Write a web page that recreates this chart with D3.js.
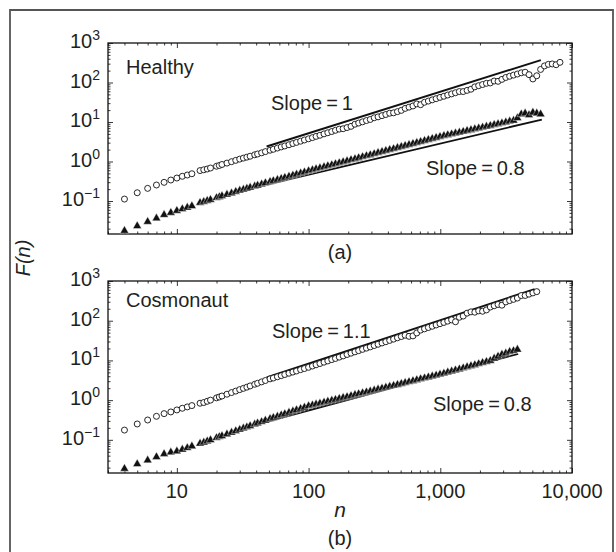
<!DOCTYPE html>
<html><head><meta charset="utf-8">
<script src="https://cdn.jsdelivr.net/npm/d3@7"></script>
<style>
html,body{margin:0;padding:0;background:#fff;}
svg{display:block;}
text{font-family:"Liberation Sans",Arial,Helvetica,sans-serif;fill:#231f20;}
</style></head><body>
<svg id="chart" width="616" height="552"></svg>
<script>
// window sizes n (shared grid, each series uses a prefix of it)
const nGrid = [4,5,6,7,8,9,10,11,12,13,15,16,17,18,20,21,22,24,26,28,30,32,34,36,39,41,44,47,51,54,58,62,66,71,76,81,87,93,100,107,114,122,131,140,150,160,171,183,196,210,225,240,257,275,294,315,337,361,386,413,442,473,506,541,579,620,663,709,759,812,869,930,995,1065,1139,1219,1304,1396,1493,1598,1710,1829,1957,2094,2241,2398,2566,2745,2937,3143,3363,3598,3850,4120,4408,4717,5047,5400,5778,6183,6616,7079,7574,8105];

// (a) Healthy
const healthyCircles = [0.112,0.162,0.209,0.254,0.297,0.340,0.382,0.422,0.455,0.490,
0.589,0.617,0.646,0.684,0.759,0.794,0.841,0.912,0.989,1.07,
1.15,1.22,1.29,1.36,1.48,1.55,1.66,1.78,1.93,2.04,
2.19,2.34,2.48,2.66,2.85,3.05,3.27,3.51,3.76,4.03,
4.32,4.62,5.01,5.35,5.75,6.17,6.61,6.76,7.24,7.76,
8.79,9.42,10.1,10.9,11.6,12.8,13.5,14.5,15.5,16.7,
17.1,18.3,19.7,22.1,23.8,25.5,28.7,27.4,31.6,33.9,
36.4,39.0,42.0,44.9,48.2,51.5,55.1,59.0,59.0,63.2,
67.6,77.6,83.2,88.9,95.3,97.5,109,107,120,134,
144,154,164,176,182,158,123,148,214,263,
288,295,282,324];
const healthyTriangles = [0.0177,0.0233,0.0299,0.0365,0.0447,0.0507,0.0569,0.0627,0.0684,0.0746,
0.0906,0.0955,0.102,0.108,0.120,0.126,0.134,0.146,0.158,0.172,
0.184,0.195,0.207,0.219,0.237,0.248,0.266,0.285,0.309,0.324,
0.346,0.368,0.391,0.418,0.446,0.472,0.506,0.537,0.575,0.610,
0.646,0.684,0.728,0.771,0.818,0.867,0.918,0.973,1.03,1.10,
1.16,1.23,1.31,1.39,1.47,1.56,1.66,1.76,1.87,1.98,
2.09,2.22,2.36,2.50,2.65,2.81,2.99,3.16,3.36,3.56,
3.78,4.00,4.25,4.47,4.70,4.93,5.18,5.44,5.71,6.01,
6.31,6.62,6.97,7.31,7.69,8.07,8.49,8.91,9.38,9.84,
10.4,10.9,12.6,15.8,16.6,15.1,17.4,16.6,15.8];
const healthyFit1N = [48, 5800],  healthyFit1F = [2.4, 370];
const healthyFit08N = [48, 5900], healthyFit08F = [0.26, 11.5];

// (b) Cosmonaut
const cosmoCircles = [0.176,0.251,0.316,0.391,0.457,0.504,0.566,0.624,0.675,0.729,
0.836,0.871,0.935,1.00,1.14,1.20,1.27,1.41,1.55,1.69,
1.84,1.98,2.12,2.28,2.51,2.66,2.88,3.12,3.43,3.60,
3.87,4.14,4.42,4.75,5.09,5.42,5.85,6.24,6.71,7.23,
7.76,8.36,9.04,9.72,10.5,11.2,12.1,13.0,14.1,15.2,
16.4,17.6,19.0,20.4,21.9,23.7,25.5,27.5,29.6,31.9,
34.4,37.1,39.9,43.0,40.4,41.5,49.1,58.0,62.4,67.3,
72.4,78.0,84.1,90.4,97.5,105,94.0,122,131,155,
167,164,177,173,187,221,238,256,246,297,
321,345,372,430,432,466,501,540];
const cosmoTriangles = [0.0188,0.0246,0.0305,0.0371,0.0442,0.0486,0.0515,0.0569,0.0627,0.0690,
0.0807,0.0861,0.0925,0.0989,0.112,0.119,0.125,0.139,0.153,0.167,
0.181,0.195,0.209,0.224,0.247,0.262,0.284,0.307,0.339,0.360,
0.389,0.419,0.450,0.486,0.525,0.562,0.610,0.655,0.708,0.746,
0.787,0.830,0.879,0.927,0.979,1.03,1.09,1.15,1.21,1.28,
1.36,1.43,1.51,1.59,1.67,1.77,1.87,1.98,2.09,2.20,
2.32,2.45,2.59,2.73,2.88,3.05,3.22,3.40,3.58,3.78,
3.99,4.21,4.45,4.72,5.02,5.33,5.68,6.03,6.41,6.82,
7.24,7.69,8.18,8.71,9.25,9.84,11.2,12.6,14.1,15.1,
16.6,17.4,18.8];
const cosmoFit11N = [48, 5200], cosmoFit11F = [3.74, 627];
const cosmoFit08N = [48, 3900], cosmoFit08F = [0.286, 14.6];

// ticks
const yTickExps = [3, 2, 1, 0, -1];
const xTickValues = [10, 100, 1000, 10000];
const xTickLabels = ["10", "100", "1,000", "10,000"];
const panelNames = ["Healthy", "Cosmonaut"];
const panelCaptions = ["(a)", "(b)"];
const slopeTexts = [["Slope\u2009=\u20091", "Slope\u2009=\u20090.8"], ["Slope\u2009=\u20091.1", "Slope\u2009=\u20090.8"]];

const svg = d3.select("#chart");
const L = 108, R = 572;
const x = d3.scaleLog().domain([3, 10000]).range([L, R]);
const yDomain = [0.01462, 1000];

// outer box
svg.append("path").attr("d", "M10,552V10H613V552").attr("fill", "none")
  .attr("stroke", "#555").attr("stroke-width", 1.8);

const minorY = [];
for (let k = -2; k <= 2; k++) for (let m = 2; m <= 9; m++) { const v = m * Math.pow(10, k); if (v > yDomain[0] && v < yDomain[1]) minorY.push(v); }
const majorY = yTickExps.map(e => Math.pow(10, e));
const minorX = [];
for (let k = 0; k <= 3; k++) for (let m = 1; m <= 9; m++) { const v = m * Math.pow(10, k); if (v >= 3 && v < 10000 && !xTickValues.includes(v)) minorX.push(v); }

const panels = [
  {top: 43, bottom: 234, circles: healthyCircles, triangles: healthyTriangles,
   fits: [[healthyFit1N, healthyFit1F], [healthyFit08N, healthyFit08F]],
   nameY: 74, slopePos: [[271, 110], [426, 175]], capY: 259, showX: false},
  {top: 281, bottom: 473, circles: cosmoCircles, triangles: cosmoTriangles,
   fits: [[cosmoFit11N, cosmoFit11F], [cosmoFit08N, cosmoFit08F]],
   nameY: 307, slopePos: [[272, 338], [433, 411]], capY: 545, showX: true}
];

panels.forEach((p, i) => {
  const y = d3.scaleLog().domain(yDomain).range([p.bottom, p.top]);
  const g = svg.append("g");
  const tickStyle = sel => { sel.select(".domain").remove(); sel.selectAll("line").attr("stroke", "#222").attr("stroke-width", 0.9); sel.selectAll("text").remove(); };
  const mk = (axisFn, scale, vals, len, tr) => g.append("g").attr("transform", tr)
      .call(axisFn(scale).tickValues(vals).tickSizeInner(-len).tickSizeOuter(0).tickFormat(() => "")).call(tickStyle);
  mk(d3.axisLeft, y, majorY, 5, `translate(${L},0)`);
  mk(d3.axisLeft, y, minorY, 2.5, `translate(${L},0)`);
  mk(d3.axisRight, y, majorY, 5, `translate(${R},0)`);
  mk(d3.axisRight, y, minorY, 2.5, `translate(${R},0)`);
  mk(d3.axisBottom, x, xTickValues, 5, `translate(0,${p.bottom})`);
  mk(d3.axisBottom, x, minorX, 2.5, `translate(0,${p.bottom})`);
  mk(d3.axisTop, x, xTickValues, 5, `translate(0,${p.top})`);
  mk(d3.axisTop, x, minorX, 2.5, `translate(0,${p.top})`);

  g.append("rect").attr("x", L).attr("y", p.top).attr("width", R - L).attr("height", p.bottom - p.top)
    .attr("fill", "none").attr("stroke", "#111").attr("stroke-width", 1.3);

  // y labels
  yTickExps.forEach(e => {
    const t = g.append("text").attr("x", 100).attr("y", y(Math.pow(10, e)) + 5)
      .attr("text-anchor", "end").attr("font-size", 20);
    t.append("tspan").text("10");
    t.append("tspan").attr("dy", -8).attr("font-size", 14).text(e < 0 ? "\u2212" + (-e) : String(e));
  });

  // fit lines
  const line = d3.line().x(d => x(d[0])).y(d => y(d[1]));
  p.fits.forEach(f => {
    g.append("path").attr("d", line(f[0].map((n, j) => [n, f[1][j]])))
      .attr("fill", "none").attr("stroke", "#111").attr("stroke-width", 1.9);
  });

  // markers
  g.selectAll(".c").data(p.circles).enter().append("circle")
    .attr("cx", (d, j) => x(nGrid[j])).attr("cy", d => y(d)).attr("r", 3)
    .attr("fill", "#fff").attr("stroke", "#111").attr("stroke-width", 0.9);
  const tri = d3.symbol().type(d3.symbolTriangle).size(32);
  g.selectAll(".t").data(p.triangles).enter().append("path")
    .attr("d", tri).attr("transform", (d, j) => `translate(${x(nGrid[j])},${y(d)})`)
    .attr("fill", "#111").attr("stroke", "#fff").attr("stroke-width", 0.4);

  // texts
  g.append("text").attr("x", 126).attr("y", p.nameY).attr("font-size", 20).text(panelNames[i]);
  p.slopePos.forEach((pos, j) => g.append("text").attr("x", pos[0]).attr("y", pos[1]).attr("font-size", 20).text(slopeTexts[i][j]));
  g.append("text").attr("x", (L + R) / 2).attr("y", p.capY).attr("text-anchor", "middle").attr("font-size", 20).text(panelCaptions[i]);

  if (p.showX) {
    xTickValues.forEach((v, j) => g.append("text").attr("x", x(v)).attr("y", p.bottom + 25)
      .attr("text-anchor", "middle").attr("font-size", 20).text(xTickLabels[j]));
    g.append("text").attr("x", (L + R) / 2).attr("y", 517).attr("text-anchor", "middle")
      .attr("font-size", 21).attr("font-style", "italic").text("n");
  }
});

svg.append("text").attr("transform", "translate(30,258) rotate(-90)").attr("text-anchor", "middle")
  .attr("font-size", 20).attr("font-style", "italic").text("F(n)");
</script>
</body></html>
